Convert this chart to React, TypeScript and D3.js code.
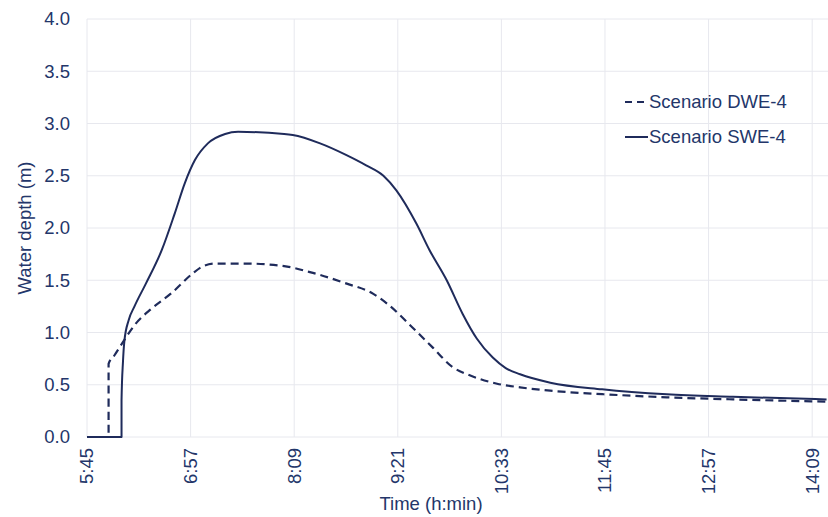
import React, { useEffect, useRef } from 'react';
import * as d3 from 'd3';

// time (h:min) and water depth (m)
const dweTimes = ["5:45", "6:00", "6:00", "6:04", "6:11", "6:18", "6:30", "6:44", "6:58", "7:05", "7:14", "7:35",
  "8:02", "8:22", "8:45", "9:04", "9:15", "9:31", "9:45", "9:59", "10:11", "10:30", "10:46", "11:07",
  "11:43", "12:28", "13:14", "14:19"];
const dweDepth = [0, 0, 0.70, 0.78, 0.93, 1.07, 1.23, 1.38, 1.56, 1.63, 1.66, 1.66,
  1.635, 1.57, 1.47, 1.37, 1.26, 1.05, 0.86, 0.67, 0.59, 0.51, 0.475, 0.443,
  0.41, 0.38, 0.36, 0.338];

const sweTimes = ["5:45", "6:09", "6:09", "6:10", "6:11", "6:14", "6:18", "6:26", "6:37", "6:46", "6:53", "7:00", "7:09", "7:21",
  "7:30", "8:02", "8:08", "8:27", "8:45", "8:59", "9:11", "9:20", "9:34", "9:43", "9:55", "10:06",
  "10:16", "10:27", "10:36", "10:46", "11:07", "11:43", "12:28", "13:14", "14:19"];
const sweDepth = [0, 0, 0.35, 0.72, 0.92, 1.12, 1.25, 1.47, 1.79, 2.14, 2.43, 2.65, 2.81, 2.90,
  2.92, 2.90, 2.89, 2.81, 2.70, 2.60, 2.50, 2.36, 2.04, 1.79, 1.50, 1.18,
  0.94, 0.76, 0.66, 0.60, 0.52, 0.456, 0.408, 0.385, 0.36];

const xTickLabels = ["5:45", "6:57", "8:09", "9:21", "10:33", "11:45", "12:57", "14:09"];
const yTicks = [0, 0.5, 1, 1.5, 2, 2.5, 3, 3.5, 4];

const seriesNames = ["Scenario DWE-4", "Scenario SWE-4"];

const toMin = (s: string) => {
  const [h, m] = s.split(":").map(Number);
  return h * 60 + m;
};
const fmt = (v: number) => Math.floor(v / 60) + ":" + String(v % 60).padStart(2, "0");

const W = 828, H = 517;
const lineColor = "#1f2b5b";
const textColor = "#23366a";
const gridColor = "#e7e8ee";
const font = "'Liberation Sans', Arial, sans-serif";

export default function App() {
  const ref = useRef<SVGSVGElement>(null);

  useEffect(() => {
    const svg = d3.select(ref.current);
    svg.selectAll("*").remove();

    const margin = { top: 19, right: 0, bottom: 80, left: 87 };

    const x = d3.scaleLinear()
      .domain([toMin("5:45"), toMin("5:45") + 515])
      .range([margin.left, W - margin.right]);
    const y = d3.scaleLinear()
      .domain([0, 4])
      .range([H - margin.bottom, margin.top]);

    const xTicks = xTickLabels.map(toMin);

    // grid
    svg.append("g").selectAll("line.h")
      .data(yTicks)
      .enter().append("line")
      .attr("x1", x.range()[0]).attr("x2", x.range()[1])
      .attr("y1", d => y(d)).attr("y2", d => y(d))
      .attr("stroke", gridColor).attr("stroke-width", 1);
    svg.append("g").selectAll("line.v")
      .data(xTicks)
      .enter().append("line")
      .attr("x1", d => x(d)).attr("x2", d => x(d))
      .attr("y1", y(0)).attr("y2", y(4))
      .attr("stroke", gridColor).attr("stroke-width", 1);

    // y tick labels
    svg.append("g").selectAll("text")
      .data(yTicks)
      .enter().append("text")
      .attr("x", margin.left - 17)
      .attr("y", d => y(d))
      .attr("dy", "0.35em")
      .attr("text-anchor", "end")
      .attr("font-family", font).attr("font-size", "18.5px")
      .attr("fill", textColor)
      .text(d => d.toFixed(1));

    // x tick labels, rotated
    svg.append("g").selectAll("text")
      .data(xTicks)
      .enter().append("text")
      .attr("transform", d => `translate(${x(d)},${y(0) + 11}) rotate(-90)`)
      .attr("dy", "0.35em")
      .attr("text-anchor", "end")
      .attr("font-family", font).attr("font-size", "18.5px")
      .attr("fill", textColor)
      .text(d => fmt(d));

    // axis titles
    svg.append("text")
      .attr("transform", `translate(31,${(y(0) + y(4)) / 2}) rotate(-90)`)
      .attr("text-anchor", "middle")
      .attr("font-family", font).attr("font-size", "18.5px")
      .attr("fill", textColor)
      .text("Water depth (m)");
    svg.append("text")
      .attr("x", 431).attr("y", 510)
      .attr("text-anchor", "middle")
      .attr("font-family", font).attr("font-size", "18.5px")
      .attr("fill", textColor)
      .text("Time (h:min)");

    const line = d3.line<[number, number]>()
      .x(d => x(d[0]))
      .y(d => y(d[1]))
      .curve(d3.curveMonotoneX);

    const dwe: [number, number][] = dweTimes.map((t, i) => [toMin(t), dweDepth[i]]);
    const swe: [number, number][] = sweTimes.map((t, i) => [toMin(t), sweDepth[i]]);

    svg.append("path")
      .attr("d", line(swe))
      .attr("fill", "none")
      .attr("stroke", lineColor)
      .attr("stroke-width", 2)
      .attr("stroke-linejoin", "round");
    svg.append("path")
      .attr("d", line(dwe))
      .attr("fill", "none")
      .attr("stroke", lineColor)
      .attr("stroke-width", 2.2)
      .attr("stroke-dasharray", "8,5");

    // legend
    const legend = svg.append("g");
    const rows = [
      { name: seriesNames[0], dash: "7,5", y: 102 },
      { name: seriesNames[1], dash: null, y: 137 },
    ];
    rows.forEach(r => {
      legend.append("line")
        .attr("x1", 625).attr("x2", 648)
        .attr("y1", r.y).attr("y2", r.y)
        .attr("stroke", lineColor)
        .attr("stroke-width", 2)
        .attr("stroke-dasharray", r.dash);
      legend.append("text")
        .attr("x", 649).attr("y", r.y)
        .attr("dy", "0.35em")
        .attr("font-family", font).attr("font-size", "18.5px")
        .attr("fill", textColor)
        .text(r.name);
    });
  }, []);

  return (
    <div style={{ position: "absolute", left: 0, top: 0 }}>
      <svg ref={ref} width={W} height={H} style={{ display: "block", background: "#fff" }} />
    </div>
  );
}
